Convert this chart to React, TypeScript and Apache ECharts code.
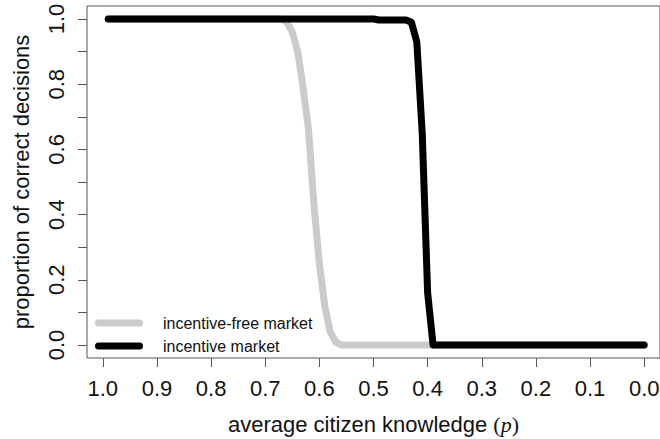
import React, { useEffect, useRef } from "react";
import * as echarts from "echarts";

// Axis ticks / labels
const knowledgeTicks = [1.0, 0.9, 0.8, 0.7, 0.6, 0.5, 0.4, 0.3, 0.2, 0.1, 0.0];
const proportionTicks = [0.0, 0.1, 0.2, 0.3, 0.4, 0.5, 0.6, 0.7, 0.8, 0.9, 1.0];
const proportionLabels = [0.0, 0.2, 0.4, 0.6, 0.8, 1.0];

const seriesNames = ["incentive-free market", "incentive market"];

// incentive-free market (grey)
const freeKnowledge = [0.99, 0.67, 0.66, 0.65, 0.64, 0.63, 0.62, 0.61, 0.6, 0.59, 0.58, 0.57, 0.56, 0.0];
const freeProportion = [1.0, 1.0, 0.99, 0.96, 0.9, 0.79, 0.66, 0.43, 0.25, 0.12, 0.04, 0.01, 0.0, 0.0];

// incentive market (black)
const incKnowledge = [0.99, 0.5, 0.49, 0.44, 0.43, 0.42, 0.41, 0.4, 0.39, 0.0];
const incProportion = [1.0, 1.0, 0.997, 0.997, 0.99, 0.93, 0.65, 0.16, 0.0, 0.0];

const FONT = "'Liberation Sans', Arial, Helvetica, sans-serif";
const TEXT = "#111";
const FRAME = "#555";
const GREY = "#cbcbcb";
const BLACK = "#000";
const ICON = "path://M3.5,0L44.5,0A3.5,3.5,0,0,1,44.5,7L3.5,7A3.5,3.5,0,0,1,3.5,0Z";

export default function App() {
  const ref = useRef<HTMLDivElement>(null);
  useEffect(() => {
    const chart = echarts.init(ref.current!, null, { renderer: "svg" });
    chart.setOption({
      animation: false,
      backgroundColor: "#fff",
      grid: {
        left: 87,
        right: 0,
        top: 6,
        bottom: 81,
        show: true,
        borderColor: FRAME,
        borderWidth: 1,
        containLabel: false,
        outerBoundsMode: "none",
      },
      legend: {
        orient: "vertical",
        left: 95,
        top: 315,
        padding: 0,
        itemGap: 7,
        itemWidth: 48,
        itemHeight: 7,
        itemStyle: { borderWidth: 0 },
        data: [
          { name: seriesNames[0], icon: ICON },
          { name: seriesNames[1], icon: ICON },
        ],
        textStyle: {
          fontSize: 16,
          fontFamily: FONT,
          color: TEXT,
          lineHeight: 16,
          padding: [0, 0, 0, 15],
        },
      },
      xAxis: {
        type: "value",
        position: "bottom",
        min: -0.0292,
        max: 1.0292,
        inverse: true,
        splitLine: { show: false },
        axisLine: { show: false, onZero: false },
        axisTick: {
          show: true,
          inside: false,
          customValues: knowledgeTicks,
          length: 9,
          lineStyle: { color: FRAME, width: 1 },
        },
        axisLabel: {
          customValues: knowledgeTicks,
          formatter: (v: number) => v.toFixed(1),
          fontSize: 22,
          fontFamily: FONT,
          color: TEXT,
          margin: 19,
          hideOverlap: false,
        },
        name: "average citizen knowledge {s|(}{i|p}{s|)}",
        nameLocation: "middle",
        nameGap: 55,
        nameTextStyle: {
          fontSize: 22,
          fontFamily: FONT,
          color: TEXT,
          rich: {
            s: { fontSize: 22, fontFamily: "'Liberation Serif', 'DejaVu Serif', serif", color: TEXT },
            i: {
              fontSize: 22,
              fontFamily: "'Liberation Serif', 'DejaVu Serif', serif",
              fontStyle: "italic",
              color: TEXT,
            },
          },
        },
      },
      yAxis: {
        type: "value",
        position: "left",
        min: -0.04,
        max: 1.04,
        splitLine: { show: false },
        axisLine: { show: false, onZero: false },
        axisTick: {
          show: true,
          inside: false,
          customValues: proportionTicks,
          length: 9,
          lineStyle: { color: FRAME, width: 1 },
        },
        axisLabel: {
          customValues: proportionLabels,
          formatter: (v: number) => v.toFixed(1),
          rotate: 90,
          fontSize: 22,
          fontFamily: FONT,
          color: TEXT,
          margin: 20,
        },
        name: "proportion of correct decisions",
        nameLocation: "middle",
        nameGap: 55,
        nameTextStyle: { fontSize: 22, fontFamily: FONT, color: TEXT },
      },
      series: [
        {
          type: "line",
          name: seriesNames[0],
          data: freeKnowledge.map((p, i) => [p, freeProportion[i]]),
          symbol: "none",
          color: GREY,
          clip: false,
          lineStyle: { width: 7, color: GREY, cap: "round", join: "round" },
        },
        {
          type: "line",
          name: seriesNames[1],
          data: incKnowledge.map((p, i) => [p, incProportion[i]]),
          symbol: "none",
          color: BLACK,
          clip: false,
          lineStyle: { width: 7, color: BLACK, cap: "round", join: "round" },
        },
      ],
    });
    return () => chart.dispose();
  }, []);
  return (
    <div
      ref={ref}
      style={{ position: "fixed", left: 0, top: 0, width: 660, height: 439 }}
    />
  );
}
